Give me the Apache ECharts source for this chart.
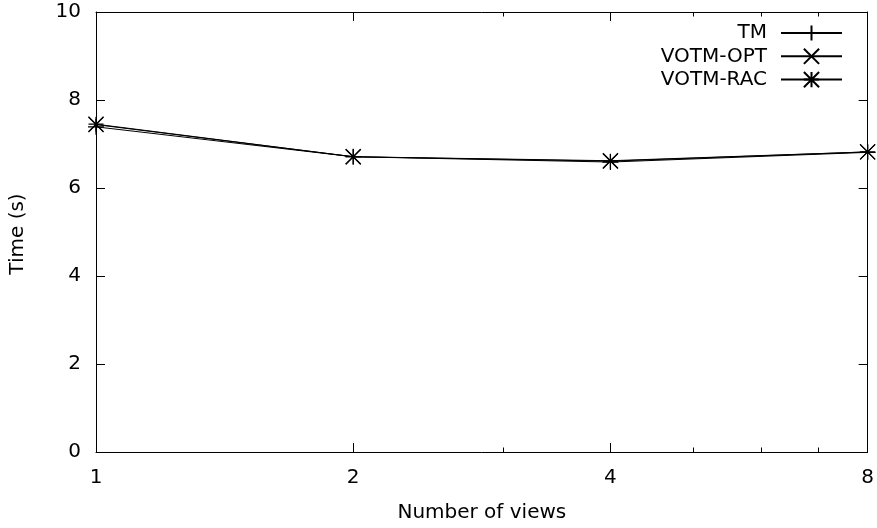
<!DOCTYPE html>
<html>
<head>
<meta charset="utf-8">
<script src="https://cdn.jsdelivr.net/npm/echarts@6/dist/echarts.min.js"></script>
<style>
html,body{margin:0;padding:0;background:#fff;}
#chart{width:877px;height:528px;}
</style>
</head>
<body>
<div id="chart"></div>
<script>
var views = [1, 2, 4, 8];
var tmTimes = [7.39, 6.71, 6.59, 6.81];
var optTimes = [7.44, 6.71, 6.62, 6.82];
var racTimes = [7.45, 6.71, 6.61, 6.82];
var seriesNames = ['TM', 'VOTM-OPT', 'VOTM-RAC'];
var xMinorTicks = [3, 5, 6, 7];
var yTicks = [0, 2, 4, 6, 8, 10];

var FONT = 'DejaVu Sans';
var FS = 20;
var plusPath = 'path://M0,5L10,5M5,0L5,10';
var crossPath = 'path://M0,0L10,10M0,10L10,0';
var starPath = 'path://M0,5L10,5M5,0L5,10M0,0L10,10M0,10L10,0';

function pairs(ys) { return views.map(function (v, i) { return [v, ys[i]]; }); }

function lineSeries(name, ys, sym, size) {
  return {
    name: name, type: 'line', data: pairs(ys),
    xAxisIndex: 0, yAxisIndex: 0,
    symbol: sym, symbolSize: size, showSymbol: true, symbolKeepAspect: true,
    lineStyle: { color: '#000', width: 1 },
    itemStyle: { color: '#000', borderColor: '#000', borderWidth: 1.2 },
    emphasis: { disabled: true },
    animation: false
  };
}

var chart = echarts.init(document.getElementById('chart'), null, { renderer: 'canvas' });
chart.setOption({
  backgroundColor: '#fff',
  animation: false,
  grid: { left: 96, right: 9, top: 12, bottom: 75, containLabel: false },
  legend: {
    orient: 'vertical', right: 34, top: 23, padding: 0,
    align: 'right', itemWidth: 61, itemHeight: 19, itemGap: 3.3,
    textStyle: { fontFamily: FONT, fontSize: FS, color: '#000', padding: [0, 9, 0, 0] },
    data: seriesNames
  },
  xAxis: [
    { type: 'log', logBase: 2, min: 1, max: 8, position: 'bottom',
      name: 'Number of views', nameLocation: 'middle', nameGap: 51,
      nameTextStyle: { fontFamily: FONT, fontSize: FS, color: '#000' },
      axisLine: { show: true, lineStyle: { color: '#000', width: 1 } },
      axisTick: { show: true, inside: true, length: 9, lineStyle: { color: '#000' } },
      axisLabel: { fontFamily: FONT, fontSize: FS, color: '#000', margin: 16 },
      splitLine: { show: false } },
    { type: 'log', logBase: 2, min: 1, max: 8, position: 'bottom',
      axisLine: { show: false },
      axisTick: { show: true, inside: true, length: 4.5, customValues: xMinorTicks, lineStyle: { color: '#000' } },
      axisLabel: { show: false }, splitLine: { show: false } },
    { type: 'log', logBase: 2, min: 1, max: 8, position: 'top',
      axisLine: { show: true, lineStyle: { color: '#000', width: 1 } },
      axisTick: { show: true, inside: true, length: 9, lineStyle: { color: '#000' } },
      axisLabel: { show: false }, splitLine: { show: false } },
    { type: 'log', logBase: 2, min: 1, max: 8, position: 'top',
      axisLine: { show: false },
      axisTick: { show: true, inside: true, length: 4.5, customValues: xMinorTicks, lineStyle: { color: '#000' } },
      axisLabel: { show: false }, splitLine: { show: false } }
  ],
  yAxis: [
    { type: 'value', min: 0, max: 10, interval: 2, position: 'left',
      axisLine: { show: true, lineStyle: { color: '#000', width: 1 } },
      axisTick: { show: true, inside: true, length: 9, lineStyle: { color: '#000' } },
      axisLabel: { fontFamily: FONT, fontSize: FS, color: '#000', margin: 15,
        customValues: yTicks },
      splitLine: { show: false } },
    { type: 'value', min: 0, max: 10, interval: 2, position: 'right',
      axisLine: { show: true, lineStyle: { color: '#000', width: 1 } },
      axisTick: { show: true, inside: true, length: 9, lineStyle: { color: '#000' } },
      axisLabel: { show: false }, splitLine: { show: false } }
  ],
  graphic: [
    { type: 'text', x: 18, y: 234, rotation: Math.PI / 2,
      style: { text: 'Time (s)', fontFamily: FONT, fontSize: FS, fill: '#000',
        align: 'center', verticalAlign: 'middle' } }
  ],
  series: [
    lineSeries(seriesNames[0], tmTimes, plusPath, 16),
    lineSeries(seriesNames[1], optTimes, crossPath, 15),
    lineSeries(seriesNames[2], racTimes, starPath, 15)
  ]
});
</script>
</body>
</html>
